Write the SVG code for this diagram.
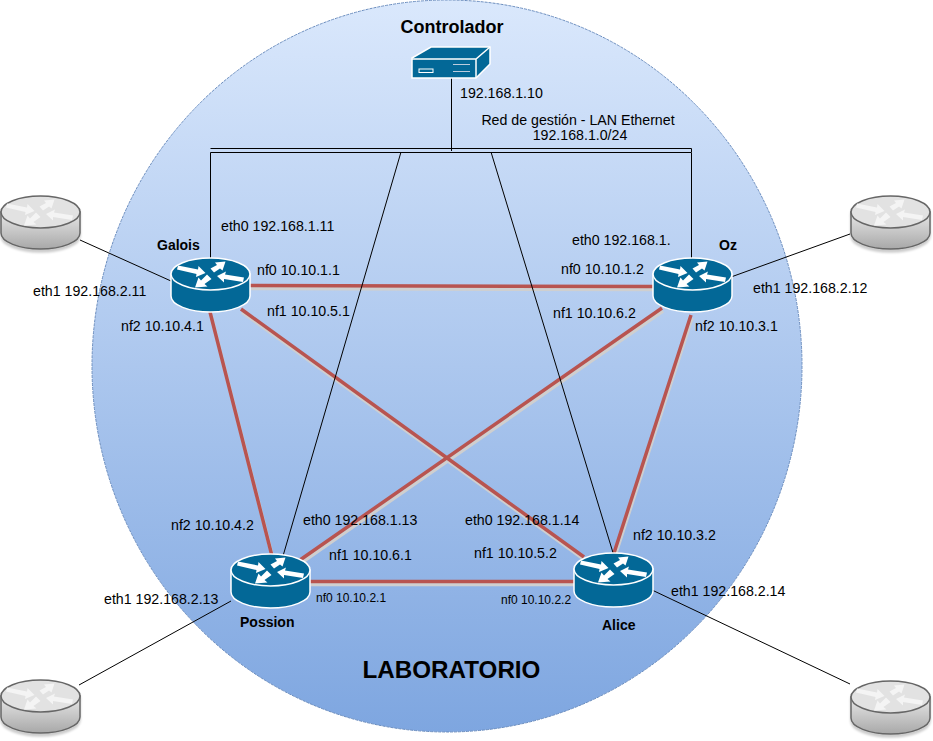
<svg xmlns="http://www.w3.org/2000/svg" width="933" height="741" viewBox="0 0 933 741">
<style>
text{font-family:"Liberation Sans",Arial,sans-serif;font-size:14.200px;fill:#000}
.b{font-weight:bold}
.c{text-anchor:middle}
.k{fill:none;stroke:#000;stroke-width:1}
.r{stroke:#b85450;stroke-width:3.500;fill:none}
.h{stroke:#cfcfcf;stroke-width:3.500;fill:none}
.m{font-size:12px}
.n{font-size:14px}
</style>
<defs>
<linearGradient id="bg" x1="0" y1="0" x2="0" y2="1"><stop offset="0" stop-color="#dae8fc"/><stop offset="1" stop-color="#7ea6e0"/></linearGradient>
<linearGradient id="gr" x1="0" y1="0" x2="0" y2="1"><stop offset="0" stop-color="#e8e8e8"/><stop offset="1" stop-color="#a8a8a8"/></linearGradient>
<filter id="sh" x="-10%" y="-10%" width="120%" height="125%"><feDropShadow dx="0" dy="3" stdDeviation="1" flood-color="#000" flood-opacity=".2"/></filter>
<g id="arrows">
<polygon points="7,7.500 27,11.500 27.500,8 34.500,15 25,19 25.500,16 6,11.500"/>
<polygon points="39.500,10.500 46,7 44,4.500 54.500,3.500 51.500,12.500 49,10.500 43,14.500"/>
<polygon points="46,18 55,13.500 54,16.500 73,19.500 72,24 53,21 53,24.500"/>
<polygon points="24,29.500 27.500,19.500 30,22.500 36,16.500 40.500,21 33.500,26 36.500,28.500"/>
</g>
<g id="router">
<path d="M0,16V38C0,47 18,54 39.500,54S79,47 79,38V16Z" fill="#036897" stroke="#fff" stroke-width="1.500"/>
<ellipse cx="39.500" cy="16" rx="39.500" ry="16" fill="#036897" stroke="#fff" stroke-width="1.500"/>
<use href="#arrows" fill="#fff"/>
</g>
<g id="grey" filter="url(#sh)">
<path d="M1,16V37C1,46 19,53 40.500,53S80,46 80,37V16Z" fill="url(#gr)" stroke="#666" stroke-width="1.500"/>
<ellipse cx="40.500" cy="16" rx="39.500" ry="16" fill="#e2e2e2" stroke="#666" stroke-width="1.500"/>
<use href="#arrows" fill="#f4f4f4"/>
</g>
<path id="links" d="M210,312 L272,556M250,285.500 L653,286.500M241,309 L584,557M662,308 L300,560M691,315 L614,553M310,581.500H574"/>
</defs>
<ellipse id="laboratorio" cx="447" cy="366" rx="355" ry="366" fill="url(#bg)" stroke="#6c8ebf" stroke-width="1" stroke-dasharray="3 1"/>
<g id="connectors">
<use href="#links" class="h" x="1" y="3"/>
<use href="#links" class="r"/>
<path class="k" d="M451.500,78V151"/>
<path class="k" d="M210.500,258V152.500H691.500V258"/>
<path class="k" d="M210.500,148.500H691.500V152"/>
<path class="k" d="M401,152 L283,556"/>
<path class="k" d="M491,152 L614,556"/>
<path class="k" d="M80,240 L171,281"/>
<path class="k" d="M850,234 L731,277"/>
<path class="k" d="M79,685 L231,601"/>
<path class="k" d="M850,684 L652,590"/>
</g>
<g id="controlador">
<polygon points="412,58 431,47 490,47 490,64 476,78 412,78" fill="#036897" stroke="#fff" stroke-width="1.500"/>
<path d="M412,59H476L490,47M476,59V78" fill="none" stroke="#fff" stroke-width="1.500"/>
<rect x="419" y="69" width="14" height="3.500" fill="none" stroke="#fff" stroke-width="1"/>
<path d="M453,64.500H470M453,71.500H470" stroke="#bcd" stroke-width="1"/>
<text class="b c" x="452" y="33" style="font-size:18px">Controlador</text>
<text x="460" y="98">192.168.1.10</text>
</g>
<g id="galois"><use href="#router" x="171" y="258"/><text class="b n" x="157" y="250">Galois</text></g>
<g id="oz"><use href="#router" x="653" y="258"/><text class="b n" x="719" y="250">Oz</text></g>
<g id="possion"><use href="#router" x="231" y="554"/><text class="b n" x="240" y="627">Possion</text></g>
<g id="alice"><use href="#router" x="574" y="553"/><text class="b n" x="602" y="630">Alice</text></g>
<g id="grey1"><use href="#grey" x="0" y="196"/></g>
<g id="grey2"><use href="#grey" x="850" y="196"/></g>
<g id="grey3"><use href="#grey" x="0" y="680"/></g>
<g id="grey4"><use href="#grey" x="850" y="681"/></g>
<g id="labels">
<text class="c" x="578" y="125">Red de gestión - LAN Ethernet</text>
<text class="c" x="580" y="140">192.168.1.0/24</text>
<text x="221" y="231">eth0 192.168.1.11</text>
<text x="572" y="245">eth0 192.168.1.</text>
<text x="257" y="275">nf0 10.10.1.1</text>
<text x="561" y="274">nf0 10.10.1.2</text>
<text x="33" y="296">eth1 192.168.2.11</text>
<text x="753" y="293">eth1 192.168.2.12</text>
<text x="267" y="316">nf1 10.10.5.1</text>
<text x="553" y="318">nf1 10.10.6.2</text>
<text x="121" y="331">nf2 10.10.4.1</text>
<text x="695" y="331">nf2 10.10.3.1</text>
<text x="303" y="525">eth0 192.168.1.13</text>
<text x="465" y="525">eth0 192.168.1.14</text>
<text x="171" y="530">nf2 10.10.4.2</text>
<text x="633" y="540">nf2 10.10.3.2</text>
<text x="329" y="560">nf1 10.10.6.1</text>
<text x="474" y="558">nf1 10.10.5.2</text>
<text x="104" y="604">eth1 192.168.2.13</text>
<text x="671" y="596">eth1 192.168.2.14</text>
<text class="m" x="316" y="602">nf0 10.10.2.1</text>
<text class="m" x="501" y="604">nf0 10.10.2.2</text>
<text class="b c" x="451.500" y="678" style="font-size:24.200px">LABORATORIO</text>
</g>
</svg>
